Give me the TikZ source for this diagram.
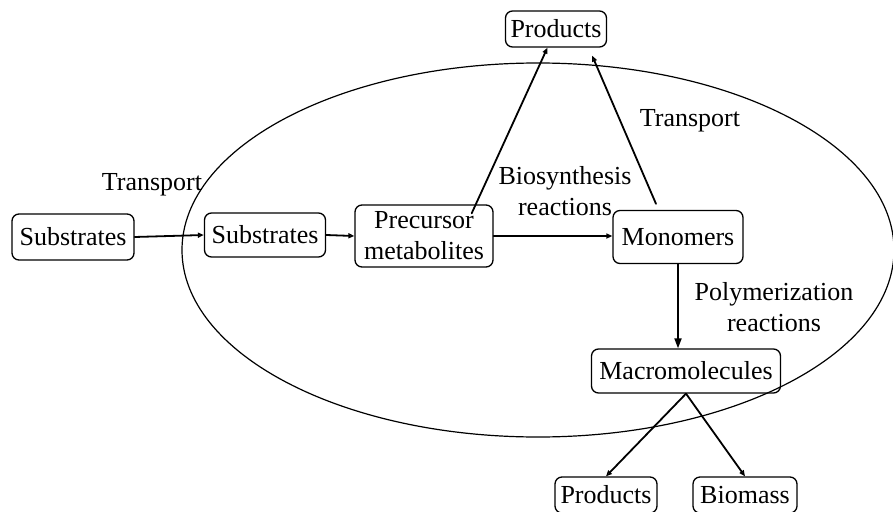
\documentclass[tikz,border=0pt]{standalone}
\usepackage{fontspec}
\setmainfont{Liberation Serif}
\usepackage{tikz}
\usetikzlibrary{arrows.meta, calc, positioning}

\begin{document}
\begin{tikzpicture}[x=1pt, y=-1pt, line cap=round, line join=round,
		font=\fontsize{26}{31}\selectfont,
		box/.style={draw, rounded corners=7pt, line width=1.3pt, inner xsep=5pt, inner ysep=0pt, align=center},
		flow/.style={-{Triangle[open, length=6pt, width=5pt]}, line width=1.8pt},
		bigflow/.style={-{Triangle[length=10pt, width=7pt]}, line width=1.8pt}]
		\useasboundingbox (0,0) rectangle (893,511);
		% cell
		\draw [line width=1.2pt] (538,250) ellipse [x radius=356, y radius=187];
		
		% nodes
		\node [box, minimum width=122pt, minimum height=46pt] (subout) at (73,237) {Substrates};
		\node [box, minimum width=121pt, minimum height=44pt] (subin) at (265,235) {Substrates};
		\node [box, minimum width=138pt, minimum height=62pt] (prec) at (424,236) {Precursor\\metabolites};
		\node [box, minimum width=130pt, minimum height=53pt] (mono) at (678,237) {Monomers};
		\node [box, minimum width=101pt, minimum height=36pt] (prodtop) at (556,29) {Products};
		\node [box, minimum width=189pt, minimum height=44pt] (macro) at (686,371) {Macromolecules};
		\node [box, minimum width=102pt, minimum height=36pt] (prodbot) at (606,495) {Products};
		\node [box, minimum width=104pt, minimum height=36pt] (bio) at (745,495) {Biomass};
		
		% labels
		\node (ltrans) at (152,185) {Transport};
		\node (rtrans) at (690,121) {Transport};
		\node [align=center] (lbio) at (565,191) {Biosynthesis\\reactions};
		\node [align=center] (lpoly) at (774,307) {Polymerization\\reactions};
		
		% connectors
		\coordinate (pstart) at ($(prec.north east)+(-22,9)$);
		\coordinate (mstart) at ($(mono.north)+(-22,-6)$);
		\coordinate (mend) at ($(prodtop.south east)+(-15,8)$);
		\draw [flow] (subout.east) -- (subin.west);
		\draw [flow] (subin.east) -- (prec.west);
		\draw [flow] (prec.east) -- (prec.east -| mono.west);
		\draw [flow] (pstart) -- (prodtop);
		\draw [flow] (mstart) -- (mend);
		\draw [bigflow] (mono.south) -- (mono.south |- macro.north);
		\draw [flow] (macro.south) -- (prodbot.north);
		\draw [flow] (macro.south) -- (bio.north);
\end{tikzpicture}
\end{document}
